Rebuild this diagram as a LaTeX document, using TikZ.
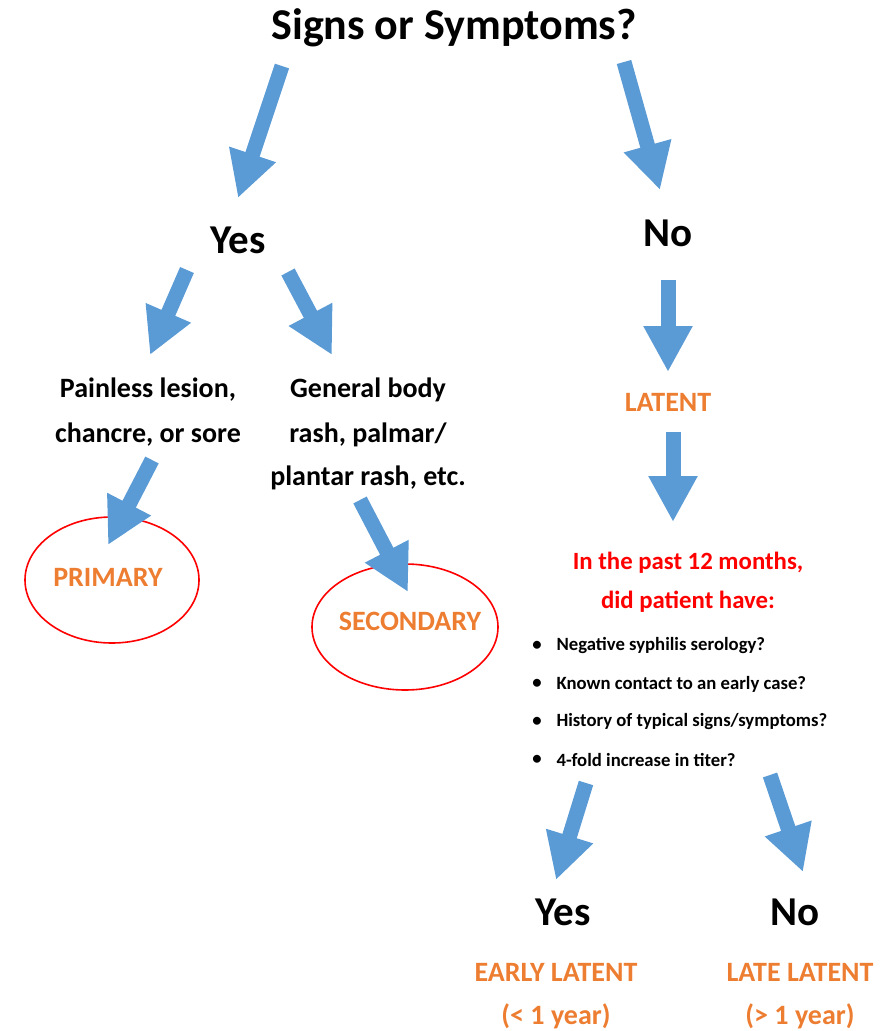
\documentclass[tikz,border=0pt]{standalone}
\usepackage{fontspec}
\setmainfont{Carlito}
\usetikzlibrary{arrows.meta,positioning,shapes.geometric}

\definecolor{arrowblue}{HTML}{5B9BD5}
\definecolor{labelorange}{HTML}{ED7D31}
\definecolor{askred}{HTML}{FF0000}

\tikzset{
  headtxt/.style={font=\fontsize{44}{52}\selectfont\bfseries},
  bigtxt/.style={font=\fontsize{41}{48}\selectfont\bfseries},
  midtxt/.style={font=\fontsize{28}{34}\selectfont\bfseries},
  kindtxt/.style={font=\fontsize{28}{34}\selectfont\bfseries,text=labelorange},
  asktxt/.style={font=\fontsize{24.8}{30}\selectfont\bfseries,text=askred},
  smalltxt/.style={font=\fontsize{18.7}{22}\selectfont\bfseries},
  ring/.style={ellipse,draw=askred,line width=1.6pt,inner sep=0pt},
  blockarrow/.style={draw=arrowblue,line width=15pt,-{Triangle[length=46pt,width=46pt]}},
}

\begin{document}
\begin{tikzpicture}[x=1pt,y=-1pt]
  \useasboundingbox (0,0) rectangle (892,1031);

    \node[headtxt] (signs) at (454,28) {Signs or Symptoms?};
    \node[bigtxt] (yes) at (238,240) {Yes};
    \node[bigtxt] (no) at (668,233) {No};

    \node[midtxt] (lesion) at (148,390) {Painless lesion,};
    \node[midtxt,below of=lesion,node distance=45pt] (chancre) {chancre, or sore};
    \node[midtxt] (body) at (368,390) {General body};
    \node[midtxt,below of=body,node distance=45pt] (rash) {rash, palmar/};
    \node[midtxt,below of=rash,node distance=43pt] (plantar) {plantar rash, etc.};
    \node[kindtxt] (latent) at (668,402) {LATENT};

    \node[ring,minimum width=174pt,minimum height=126pt] (primring) at (112,580) {};
    \node[kindtxt] (primary) at (108,577) {PRIMARY};
    \node[ring,minimum width=186pt,minimum height=126pt] (secring) at (405,627) {};
    \node[kindtxt] (secondary) at (410,621) {SECONDARY};

    \node[asktxt] (past) at (688,563) {In the past 12 months,};
    \node[asktxt,below of=past,node distance=39pt] (patient) {did patient have:};

    \node[smalltxt] (dot1) at (537,646) {\textbullet};
    \node[smalltxt,below of=dot1,node distance=38pt] (dot2) {\textbullet};
    \node[smalltxt,below of=dot2,node distance=38pt] (dot3) {\textbullet};
    \node[smalltxt,below of=dot3,node distance=38pt] (dot4) {\textbullet};
    \node[smalltxt,anchor=west] (serology) at (553,646) {Negative syphilis serology?};
    \node[smalltxt,anchor=west] (contact) at (553,684) {Known contact to an early case?};
    \node[smalltxt,anchor=west] (history) at (553,722) {History of typical signs/symptoms?};
    \node[smalltxt,anchor=west] (titer) at (553,760) {4-fold increase in titer?};

    \node[bigtxt] (yeslow) at (563,912) {Yes};
    \node[bigtxt] (nolow) at (795,912) {No};
    \node[kindtxt] (early) at (556,972) {EARLY LATENT};
    \node[kindtxt,below of=early,node distance=44pt] (lessyear) {(< 1 year)};
    \node[kindtxt] (late) at (800,972) {LATE LATENT};
    \node[kindtxt,below of=late,node distance=44pt] (moreyear) {(> 1 year)};

    % arrow ends
    \coordinate (s1) at (282,66);   \coordinate (t1) at (238,198);
    \coordinate (s2) at (624,62);   \coordinate (t2) at (660,190);
    \coordinate (s3) at (187,270);  \coordinate (t3) at (150,355);
    \coordinate (s4) at (288,272);  \coordinate (t4) at (332,355);
    \coordinate (s5) at (668,280);  \coordinate (t5) at (668,372);
    \coordinate (s6) at (673,432);  \coordinate (t6) at (673,522);
    \coordinate (s7) at (152,460);  \coordinate (t7) at (108,545);
    \coordinate (s8) at (360,500);  \coordinate (t8) at (408,592);
    \coordinate (s9) at (586,783);  \coordinate (t9) at (556,880);
    \coordinate (s10) at (770,775); \coordinate (t10) at (803,872);

    \draw[blockarrow] (s1) -- (t1);
    \draw[blockarrow] (s2) -- (t2);
    \draw[blockarrow] (s3) -- (t3);
    \draw[blockarrow] (s4) -- (t4);
    \draw[blockarrow] (s5) -- (t5);
    \draw[blockarrow] (s6) -- (t6);
    \draw[blockarrow] (s7) -- (t7);
    \draw[blockarrow] (s8) -- (t8);
    \draw[blockarrow] (s9) -- (t9);
    \draw[blockarrow] (s10) -- (t10);

\end{tikzpicture}
\end{document}
